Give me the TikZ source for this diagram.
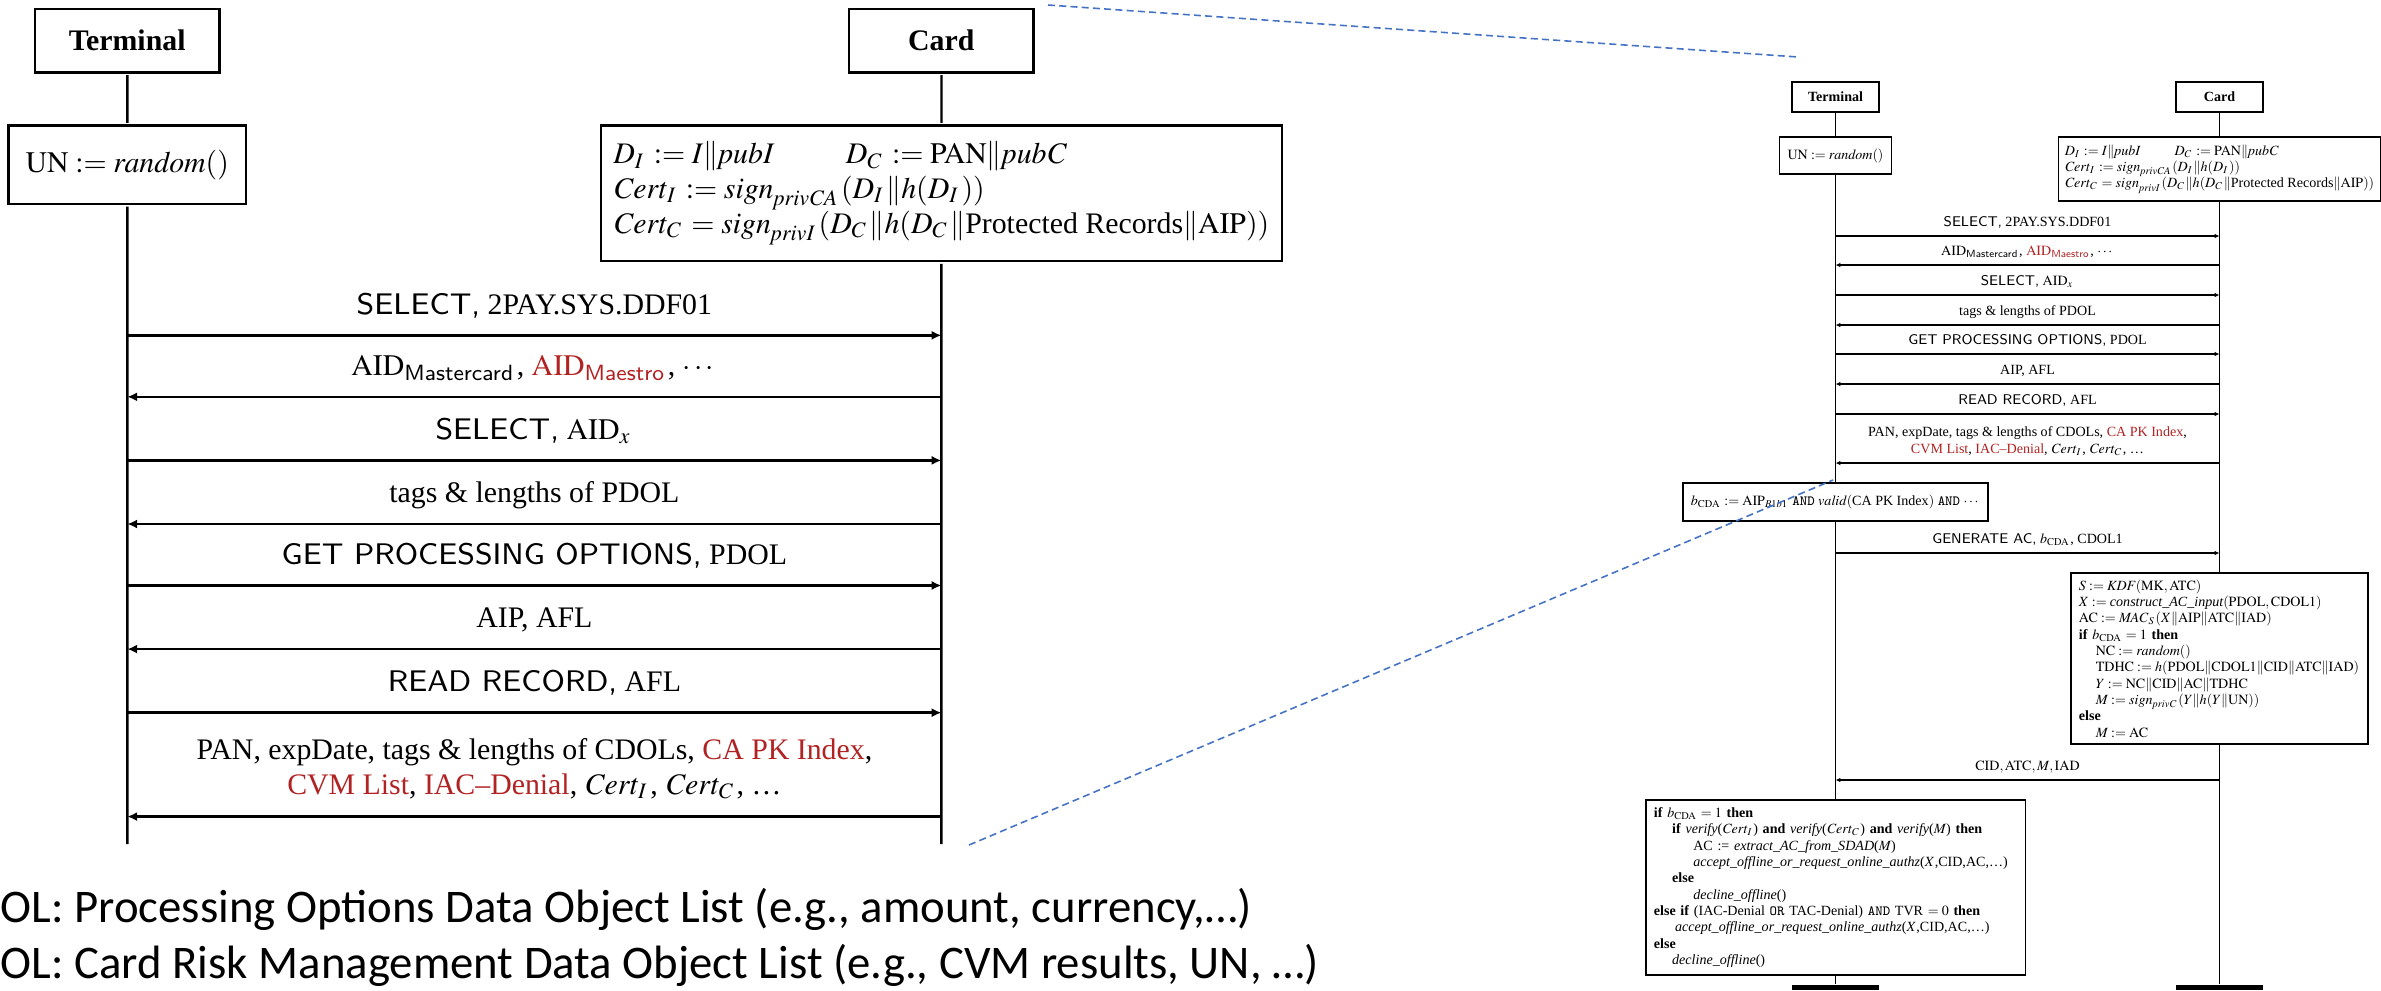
\documentclass[tikz,border=0pt]{standalone}
\usepackage{amsmath}
\usepackage{mathptmx}
\usepackage{fontspec}
\setmainfont{Liberation Serif}
\newfontfamily\notefont{Carlito}
\usepackage{xcolor}
\usepackage{tikz}
\usetikzlibrary{arrows.meta}

\definecolor{emvred}{RGB}{178,34,34}
\definecolor{zoomblue}{RGB}{68,114,196}

\newcommand*{\xTerm}{1835.5}
\newcommand*{\xCard}{2219.5}
\newcommand*{\yCut}{476}
\newcommand*{\chartfont}{\fontsize{4}{4.65}\selectfont}

\tikzset{
  actor/.style={draw, font=\chartfont\bfseries, minimum width=0.87cm, minimum height=0.30cm, inner sep=0pt},
  textbox/.style={draw, align=left, inner xsep=0.08cm, inner ysep=0pt},
  msg/.style={->},
  lbl/.style={anchor=base, yshift=0.1cm, inner sep=0pt},
  endbar/.style={fill=black, minimum width=0.87cm, minimum height=0.05cm, inner sep=0pt},
  callout/.style={zoomblue, line width=0.45pt, dash pattern=on 2pt off 1.2pt},
  note/.style={anchor=base west, inner sep=0pt, font=\notefont\fontsize{13.3}{15.7}\selectfont},
}

% top of the flow, used for the full chart and for its blow-up
\newcommand{\chartHead}{%
  \node[actor] (T) at (\xTerm,97) {Terminal};
  \node[actor] (C) at (\xCard,97) {Card};
  \node[textbox, minimum width=1.11cm, minimum height=0.37cm] (UN) at (\xTerm,155.5)
    {$\mathrm{UN} := \mathit{random}()$};
  \node[textbox, minimum width=3.2cm, minimum height=0.64cm, inner xsep=0.06cm] (D) at (\xCard,169)
    {$D_I := I\|\mathit{pubI}$\hspace{2.4em}$D_C := \mathrm{PAN}\|\mathit{pubC}$\\
     $\mathit{Cert}_I := \mathit{sign}_{\mathit{privCA}}(D_I\|h(D_I))$\\
     $\mathit{Cert}_C = \mathit{sign}_{\mathit{privI}}(D_C\|h(D_C\|\text{Protected Records}\|\mathrm{AIP}))$};
  \draw (T) -- (UN);
  \draw (C) -- (D);
  \draw (UN) -- (T |- 0,\yCut);
  \draw (D) -- (C |- 0,\yCut);
  % messages
  \draw[msg] (T |- 0,236) -- node[lbl] (m1) {\textsf{SELECT,} 2PAY.SYS.DDF01} (C |- 0,236);
  \draw[msg] (C |- 0,265) -- node[lbl] (m2) {$\mathrm{AID}_{\textsf{Mastercard}}$, \textcolor{emvred}{$\mathrm{AID}_{\textsf{Maestro}}$}, $\cdots$} (T |- 0,265);
  \draw[msg] (T |- 0,295) -- node[lbl] (m3) {\textsf{SELECT,} $\mathrm{AID}_x$} (C |- 0,295);
  \draw[msg] (C |- 0,325) -- node[lbl] (m4) {tags \& lengths of PDOL} (T |- 0,325);
  \draw[msg] (T |- 0,354) -- node[lbl] (m5) {\textsf{GET PROCESSING OPTIONS,} PDOL} (C |- 0,354);
  \draw[msg] (C |- 0,384) -- node[lbl] (m6) {AIP, AFL} (T |- 0,384);
  \draw[msg] (T |- 0,414) -- node[lbl] (m7) {\textsf{READ RECORD,} AFL} (C |- 0,414);
  \draw[msg] (C |- 0,463) -- node[lbl, anchor=south, align=center, yshift=-0.03cm] (m8)
    {PAN, expDate, tags \& lengths of CDOLs, \textcolor{emvred}{CA PK Index},\\
     \textcolor{emvred}{CVM List}, \textcolor{emvred}{IAC--Denial}, $\mathit{Cert}_I$, $\mathit{Cert}_C$, \ldots} (T |- 0,463);
}

\begin{document}
\begin{tikzpicture}[x=0.01cm, y=-0.01cm, every node/.style={font=\chartfont}]
  \useasboundingbox (0,0) rectangle (2381,990);

  % blow-up on the left
  \begin{scope}[shift={(-3764,-165)}, scale=2.12, transform shape, name prefix=big-,
      line width=0.7pt, >={Latex[length=2.8pt,width=2.6pt]}]
    \chartHead
  \end{scope}

  % full chart on the right
  \begin{scope}[name prefix=sm-, line width=0.35pt, >={Latex[length=1.4pt,width=1.3pt]}]
    \chartHead
    \node[textbox, minimum width=3cm, minimum height=0.38cm] (B) at (\xTerm,502)
      {$b_{\mathrm{CDA}} := \mathrm{AIP}_{B1b1}$ \texttt{AND} $\mathit{valid}(\text{CA PK Index})$ \texttt{AND} $\cdots$};
    \draw[msg] (T |- 0,553) -- node[lbl] (m9) {\textsf{GENERATE AC,} $b_{\mathrm{CDA}}$, CDOL1} (C |- 0,553);
    \node[textbox, text width=2.81cm, minimum height=1.71cm] (K) at (\xCard,658.5)
      {$S := \mathit{KDF}(\mathrm{MK},\mathrm{ATC})$\\
       $X := \textit{construct\_AC\_input}(\mathrm{PDOL},\mathrm{CDOL1})$\\
       $\mathrm{AC} := \mathit{MAC}_S(X\|\mathrm{AIP}\|\mathrm{ATC}\|\mathrm{IAD})$\\
       \textbf{if} $b_{\mathrm{CDA}} = 1$ \textbf{then}\\
       \hspace*{1.2em}$\mathrm{NC} := \mathit{random}()$\\
       \hspace*{1.2em}$\mathrm{TDHC} := h(\mathrm{PDOL}\|\mathrm{CDOL1}\|\mathrm{CID}\|\mathrm{ATC}\|\mathrm{IAD})$\\
       \hspace*{1.2em}$Y := \mathrm{NC}\|\mathrm{CID}\|\mathrm{AC}\|\mathrm{TDHC}$\\
       \hspace*{1.2em}$M := \mathit{sign}_{\mathit{privC}}(Y\|h(Y\|\mathrm{UN}))$\\
       \textbf{else}\\
       \hspace*{1.2em}$M := \mathrm{AC}$};
    \draw[msg] (C |- 0,780) -- node[lbl] (m10) {$\mathrm{CID},\mathrm{ATC},M,\mathrm{IAD}$} (T |- 0,780);
    \node[textbox, text width=3.63cm, minimum height=1.75cm] (V) at (\xTerm,887.5)
      {\textbf{if} $b_{\mathrm{CDA}} = 1$ \textbf{then}\\
       \hspace*{1.3em}\textbf{if} \textit{verify}($\mathit{Cert}_I$) \textbf{and} \textit{verify}($\mathit{Cert}_C$) \textbf{and} \textit{verify}($M$) \textbf{then}\\
       \hspace*{2.8em}AC := \textit{extract\_AC\_from\_SDAD}($M$)\\
       \hspace*{2.8em}\textit{accept\_offline\_or\_request\_online\_authz}($X$,CID,AC,\ldots)\\
       \hspace*{1.3em}\textbf{else}\\
       \hspace*{2.8em}\textit{decline\_offline}()\\
       \textbf{else if} (IAC-Denial \texttt{OR} TAC-Denial) \texttt{AND} TVR $=0$ \textbf{then}\\
       \hspace*{1.5em}\textit{accept\_offline\_or\_request\_online\_authz}($X$,CID,AC,\ldots)\\
       \textbf{else}\\
       \hspace*{1.3em}\textit{decline\_offline}()};
    \foreach \n/\x in {Tend/\xTerm, Cend/\xCard}
      \node[endbar] (\n) at (\x,987.5) {};
    \draw (UN) -- (B);
    \draw (B) -- (V);
    \draw (V) -- (Tend);
    \draw (D) -- (K);
    \draw (K) -- (Cend);
  \end{scope}

  % zoom callout
  \coordinate (zoomTop) at (1048,5);
  \coordinate (srcTop) at (1798,57);
  \coordinate (zoomBot) at (969,845);
  \coordinate (srcBot) at (1833,480);
  \draw[callout] (zoomTop) -- (srcTop);
  \draw[callout] (zoomBot) -- (srcBot);

  % footnotes
  \node[note] (pdol) at (0,922) {OL: Processing Options Data Object List (e.g., amount, currency,…)};
  \node[note] (cdol) at (0,978) {OL: Card Risk Management Data Object List (e.g., CVM results, UN, …)};
\end{tikzpicture}
\end{document}
